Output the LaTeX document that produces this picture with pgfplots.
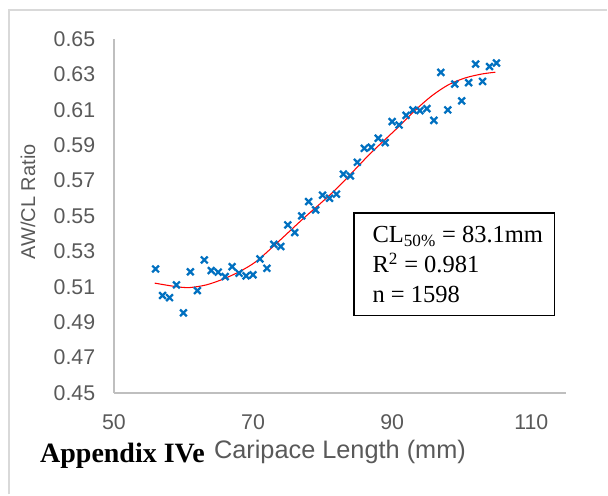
\documentclass[border=0pt]{standalone}
\usepackage{pgfplots}
\pgfplotsset{compat=1.18}
\usepackage{fontspec}
\setmainfont{Liberation Sans}
\newfontfamily\timesf{Liberation Serif}
\definecolor{txtgray}{HTML}{595959}
\definecolor{axgray}{HTML}{BFBFBF}
\definecolor{frame}{HTML}{D9D9D9}
\definecolor{ptblue}{HTML}{0070C0}
\begin{document}
\begin{tikzpicture}
% page size: 608 x 495 px at 0.75pt per px
\path (0,0) rectangle (456pt,371.25pt);
\draw[frame, line width=1pt] (6.75pt,0) -- (6.75pt,363.75pt) -- (456pt,363.75pt);
\begin{axis}[
    at={(85.5pt,76.3pt)}, anchor=south west,
    scale only axis, width=339.5pt, height=265.7pt,
    xmin=50, xmax=115, ymin=0.45, ymax=0.65,
    axis x line=bottom, axis y line=left,
    axis line style={-, axgray, line width=1.1pt},
    xtick={50,70,90,110},
    ytick={0.45,0.47,0.49,0.51,0.53,0.55,0.57,0.59,0.61,0.63,0.65},
    major tick length=0pt,
    /pgf/number format/assume math mode=true,
    yticklabel style={/pgf/number format/fixed, /pgf/number format/fixed zerofill,
        /pgf/number format/precision=2, xshift=-10.5pt},
    ticklabel style={font=\fontsize{16}{18}\selectfont, text=txtgray},
    xticklabel style={yshift=-12.5pt},
    xlabel={Caripace Length (mm)},
    ylabel={AW/CL Ratio},
    xlabel style={font=\fontsize{19}{21}\selectfont, text=txtgray, at={(axis description cs:0.5,-0.168)}, anchor=center},
    ylabel style={font=\fontsize{15}{17}\selectfont, text=txtgray, at={(axis description cs:-0.19,0.54)}, anchor=center},
    clip=false,
]
\addplot[only marks, mark=x, mark size=3.6pt, ptblue, line width=1.7pt] coordinates {
(56,0.5200) (57,0.5050) (58,0.5038) (59,0.5110) (60,0.4952)
(61,0.5184) (62,0.5078) (63,0.5251) (64,0.5191) (65,0.5182)
(66,0.5157) (67,0.5213) (68,0.5176) (69,0.5161) (70,0.5167)
(71,0.5257) (72,0.5204) (73,0.5339) (74,0.5327) (75,0.5449)
(76,0.5406) (77,0.5500) (78,0.5581) (79,0.5534) (80,0.5617)
(81,0.5600) (82,0.5623) (83,0.5736) (84,0.5726) (85,0.5803)
(86,0.5882) (87,0.5888) (88,0.5939) (89,0.5914) (90,0.6033)
(91,0.6014) (92,0.6068) (93,0.6099) (94,0.6095) (95,0.6106)
(96,0.6040) (97,0.6311) (98,0.6099) (99,0.6245) (100,0.6150)
(101,0.6253) (102,0.6358) (103,0.6260) (104,0.6344) (105,0.6364)
};
\addplot[red, line width=0.8pt, smooth] coordinates {
(55.87,0.5120) (58.98,0.5100) (60.89,0.5095) (63.28,0.5110) (65.66,0.5142)
(68.05,0.5185) (70.44,0.5242) (73.31,0.5342) (77.12,0.5481) (81.91,0.5650)
(86.68,0.5845) (90.97,0.6005) (93.37,0.6099) (95.75,0.6180) (98.14,0.6242)
(100.53,0.6280) (102.91,0.6302) (104.83,0.6312)
};
\end{axis}
% text box
\draw[line width=1pt] (265.9pt,134.25pt) rectangle (416.25pt,211.3pt);
\begin{scope}[every node/.style={anchor=base west, inner sep=0pt, font=\timesf\fontsize{18.4}{21}\selectfont}]
\node at (279.5pt,188.8pt) {CL\textsubscript{50\%} = 83.1mm};
\node at (279.5pt,166.3pt) {R\textsuperscript{2} = 0.981};
\node at (279.5pt,143.8pt) {n = 1598};
\end{scope}
\node[anchor=base west, font=\timesf\bfseries\fontsize{21}{23}\selectfont, inner sep=0pt] at (30pt,24pt) {Appendix IVe};
\end{tikzpicture}
\end{document}
